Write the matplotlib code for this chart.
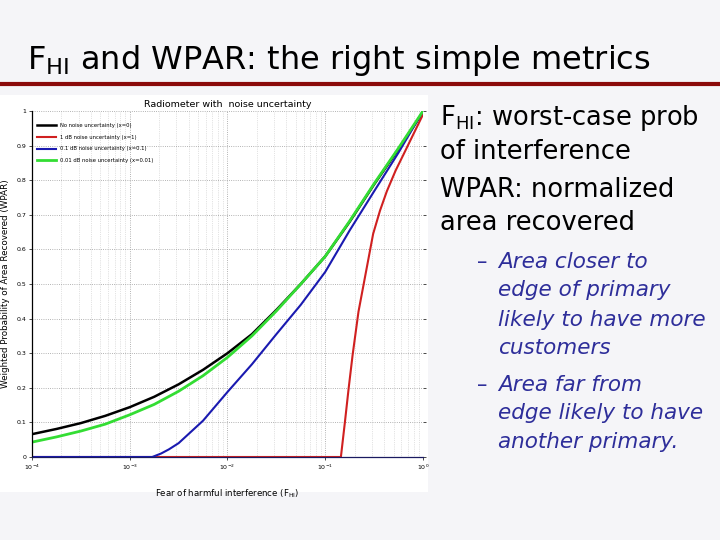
import numpy as np
import matplotlib
matplotlib.use('Agg')
import matplotlib.pyplot as plt
from matplotlib.patches import Rectangle

plt.rcParams['font.family'] = ['DejaVu Sans']
plt.rcParams['mathtext.default'] = 'regular'

# curve data: log10(F_HI) and WPAR
logf_black = [-4.0, -3.75, -3.5, -3.25, -3.0, -2.75, -2.5, -2.25, -2.0, -1.75, -1.5,
              -1.25, -1.0, -0.75, -0.5, -0.25, 0.0]
wpar_black = [0.066, 0.081, 0.098, 0.119, 0.144, 0.174, 0.21, 0.252, 0.3, 0.355, 0.425,
              0.5, 0.58, 0.68, 0.788, 0.89, 0.997]

logf_green = logf_black
wpar_green = [0.043, 0.058, 0.075, 0.095, 0.122, 0.152, 0.19, 0.235, 0.288, 0.35, 0.422,
              0.5, 0.58, 0.682, 0.79, 0.893, 1.0]

logf_blue = [-4.0, -2.77, -2.68, -2.6, -2.5, -2.25, -2.0, -1.75, -1.5, -1.25, -1.0,
             -0.75, -0.5, -0.25, 0.0]
wpar_blue = [0.0, 0.0, 0.01, 0.022, 0.04, 0.105, 0.188, 0.268, 0.355, 0.44, 0.535,
             0.655, 0.768, 0.88, 1.0]

logf_red = [-4.0, -0.84, -0.8, -0.76, -0.72, -0.66, -0.59, -0.51, -0.44, -0.37, -0.28,
            -0.2, -0.1, 0.0]
wpar_red = [0.0, 0.0, 0.098, 0.2, 0.295, 0.42, 0.525, 0.645, 0.712, 0.768, 0.828,
            0.874, 0.932, 0.99]

labels = ['No noise uncertainty (x=0)', '1 dB noise uncertainty (x=1)',
          '0.1 dB noise uncertainty (x=0.1)', '0.01 dB noise uncertainty (x=0.01)']

bullets_main = ['F$_{HI}$: worst-case prob', 'of interference',
                'WPAR: normalized', 'area recovered']
bullets_sub = [['Area closer to', 'edge of primary', 'likely to have more', 'customers'],
               ['Area far from', 'edge likely to have', 'another primary.']]

fig = plt.figure(figsize=(7.2, 5.4), dpi=100)
fig.patch.set_facecolor('#F5F5F8')

# white box of the pasted chart picture
fig.patches.append(Rectangle((0, 1 - 492 / 540), 428 / 720, (492 - 95) / 540,
                             transform=fig.transFigure, facecolor='white',
                             edgecolor='none', zorder=-5))

# slide title and the dark red rule under it
fig.text(27 / 720, 1 - 61 / 540, 'F$_{HI}$ and WPAR: the right simple metrics',
         fontsize=23, color='black', va='center', ha='left')
fig.add_artist(plt.Line2D([0, 1], [1 - 84 / 540, 1 - 84 / 540], transform=fig.transFigure,
                          color='#8B0A0A', linewidth=3))

ax = fig.add_axes([32 / 720, 1 - 457 / 540, (423 - 32) / 720, (457 - 111) / 540])
ax.set_facecolor('white')
ax.plot(10 ** np.array(logf_black), wpar_black, color='black', lw=1.8, label=labels[0])
ax.plot(10 ** np.array(logf_red), wpar_red, color='#D02020', lw=1.5, label=labels[1])
ax.plot(10 ** np.array(logf_blue), wpar_blue, color='#1A1AB0', lw=1.5, label=labels[2])
ax.plot(10 ** np.array(logf_green), wpar_green, color='#33DD33', lw=2.0, label=labels[3])
ax.set_xscale('log')
ax.set_xlim(1e-4, 1)
ax.set_ylim(0, 1)
ax.set_yticks(np.arange(0, 1.01, 0.1))
ax.set_yticklabels(['0', '0.1', '0.2', '0.3', '0.4', '0.5', '0.6', '0.7', '0.8', '0.9', '1'])
ax.grid(True, which='major', linestyle=':', color='#9A9A9A', linewidth=0.6)
ax.grid(True, which='minor', axis='x', linestyle=':', color='#C8C8C8', linewidth=0.5)
ax.tick_params(labelsize=4.5, length=2, width=0.5, right=True, top=False, pad=2)
ax.tick_params(which='minor', length=0)
for s in ['top', 'right']:
    ax.spines[s].set_visible(False)
ax.spines['left'].set_linewidth(0.9)
ax.spines['bottom'].set_color('#1A1A60')
ax.spines['bottom'].set_linewidth(0.9)
ax.set_title('Radiometer with  noise uncertainty', fontsize=6.8, pad=3)
ax.set_xlabel('Fear of harmful interference (F$_{HI}$)', fontsize=6.2)
ax.xaxis.set_label_coords(0.5, -0.087)
ax.set_ylabel('Weighted Probability of Area Recovered (WPAR)', fontsize=6.3)
ax.yaxis.set_label_coords(-0.055, 0.5)
ax.legend(loc='upper left', fontsize=3.8, frameon=False, handlelength=3.6,
          borderaxespad=0.6, labelspacing=1.25, bbox_to_anchor=(0.0, 0.98))

# bullet text on the right
main_y = [118, 152, 190, 223]
for t, y in zip(bullets_main, main_y):
    fig.text(440 / 720, 1 - y / 540, t, fontsize=18.5, color='black', va='center', ha='left')

sub_y = [[262, 290, 320, 348], [385, 413, 442]]
for group, ys in zip(bullets_sub, sub_y):
    fig.text(477 / 720, 1 - ys[0] / 540, '\u2013', fontsize=15, color='#2E2E9A',
             va='center', ha='left')
    for t, y in zip(group, ys):
        fig.text(498 / 720, 1 - y / 540, t, fontsize=15.5, color='#2E2E9A',
                 style='italic', va='center', ha='left')

fig.savefig('out.png', dpi=100, facecolor=fig.get_facecolor())
